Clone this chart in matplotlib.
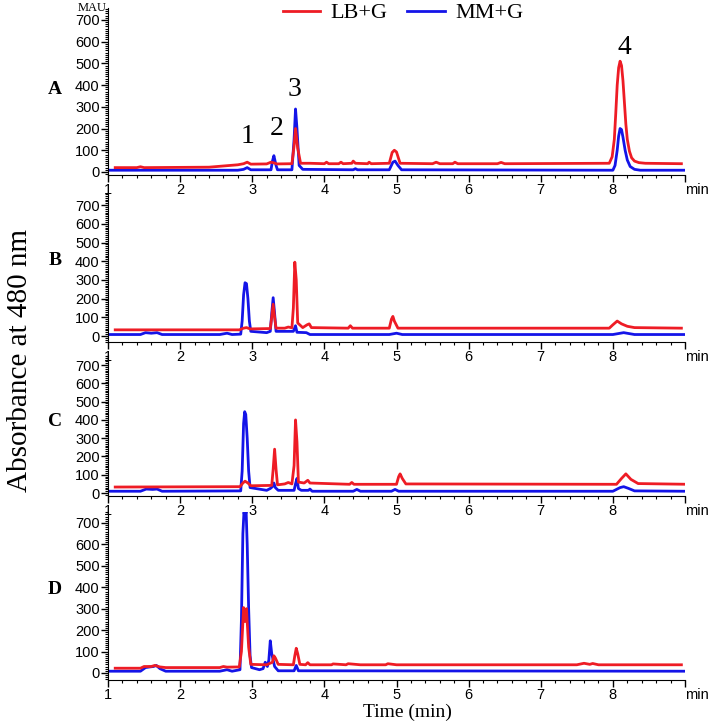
import numpy as np
import matplotlib
matplotlib.use("Agg")
from matplotlib import pyplot as plt
from matplotlib.ticker import MultipleLocator

# chromatogram traces: (time in min, absorbance in mAU)
# panel A
a_lb_t = [1.1, 1.4, 1.45, 1.5, 2.4, 2.8, 2.88, 2.93, 2.98, 3.2, 3.26, 3.3, 3.34, 3.55, 3.58, 3.6, 3.63, 3.67,
          3.8, 4.0, 4.03, 4.06, 4.2, 4.23, 4.26, 4.38, 4.4, 4.43, 4.6, 4.62, 4.65, 4.9, 4.94, 4.97, 5.0, 5.05,
          5.5, 5.55, 5.6, 5.78, 5.81, 5.85, 6.4, 6.45, 6.5, 7.95, 7.99, 8.02, 8.04, 8.06, 8.08, 8.1, 8.12,
          8.14, 8.16, 8.18, 8.2, 8.23, 8.26, 8.3, 8.36, 8.45, 8.95]
a_lb_y = [20, 20, 24, 20, 22, 33, 38, 45, 36, 37, 45, 42, 37, 38, 120, 200, 110, 40,
          40, 38, 45, 38, 38, 45, 38, 40, 50, 40, 38, 45, 38, 40, 90, 100, 92, 40,
          38, 45, 38, 38, 45, 38, 38, 44, 38, 40, 70, 150, 270, 400, 480, 510, 490,
          420, 320, 220, 150, 95, 65, 50, 43, 40, 38]
a_mm_t = [1.0, 2.8, 2.88, 2.93, 2.98, 3.26, 3.28, 3.3, 3.33, 3.35, 3.55, 3.58, 3.6, 3.62, 3.65, 3.7,
          4.4, 4.43, 4.46, 4.9, 4.95, 4.98, 5.02, 5.07, 8.0, 8.03, 8.06, 8.08, 8.1, 8.12, 8.14, 8.17,
          8.2, 8.24, 8.3, 8.38, 9.0]
a_mm_y = [8, 8, 12, 20, 10, 10, 50, 75, 30, 10, 10, 150, 290, 200, 30, 12,
          10, 15, 10, 10, 45, 50, 30, 10, 8, 30, 100, 165, 200, 195, 160, 100,
          55, 25, 12, 8, 8]

# panel B
b_lb_t = [1.1, 2.82, 2.88, 2.92, 2.97, 3.25, 3.27, 3.29, 3.31, 3.33, 3.45, 3.5, 3.55, 3.57, 3.59, 3.61, 3.63,
          3.7, 3.76, 3.79, 3.82, 4.33, 4.36, 4.39, 4.9, 4.93, 4.95, 4.97, 5.02, 7.95, 8.0, 8.06, 8.12, 8.2, 8.3, 8.95]
b_lb_y = [33, 33, 42, 45, 38, 40, 100, 170, 100, 42, 42, 48, 44, 150, 395, 300, 70,
          45, 60, 65, 45, 42, 55, 42, 42, 90, 105, 80, 42, 42, 60, 80, 65, 52, 45, 42]
b_mm_t = [1.0, 1.45, 1.52, 1.6, 1.68, 1.75, 2.55, 2.65, 2.72, 2.84, 2.86, 2.88, 2.9, 2.92, 2.94, 2.96, 2.98,
          3.2, 3.25, 3.27, 3.29, 3.31, 3.33, 3.5, 3.57, 3.6, 3.62, 3.75, 3.8, 4.9, 5.0, 5.08, 8.0, 8.15, 8.3, 9.0]
b_mm_y = [8, 8, 18, 15, 18, 8, 8, 15, 8, 10, 80, 220, 285, 280, 200, 80, 25,
          18, 25, 120, 205, 120, 25, 25, 25, 55, 20, 18, 8, 8, 15, 8, 8, 18, 8, 8]

# panel C
c_lb_t = [1.1, 2.83, 2.87, 2.9, 2.94, 2.98, 3.27, 3.29, 3.31, 3.33, 3.35, 3.45, 3.5, 3.55, 3.58, 3.6, 3.62, 3.64,
          3.72, 3.77, 3.8, 4.35, 4.38, 4.41, 5.0, 5.03, 5.05, 5.08, 5.13, 8.05, 8.12, 8.18, 8.25, 8.35, 9.05]
c_lb_y = [33, 35, 55, 65, 55, 40, 42, 130, 240, 130, 45, 50, 58, 50, 150, 400, 280, 60,
          55, 70, 55, 48, 58, 48, 48, 90, 105, 80, 50, 48, 80, 105, 75, 52, 48]
c_mm_t = [1.0, 1.45, 1.53, 1.62, 1.68, 1.75, 2.84, 2.86, 2.88, 2.895, 2.91, 2.93, 2.95, 2.97, 3.2, 3.25, 3.28,
          3.3, 3.32, 3.36, 3.58, 3.6, 3.62, 3.64, 3.68, 3.78, 3.8, 3.83, 4.4, 4.45, 4.5, 4.93, 4.98, 5.03,
          8.0, 8.1, 8.15, 8.22, 8.3, 9.0]
c_mm_y = [10, 10, 22, 20, 22, 10, 12, 120, 380, 445, 430, 300, 120, 30, 15, 25, 35,
          55, 30, 15, 15, 50, 80, 25, 15, 15, 22, 10, 10, 20, 10, 10, 20, 10,
          10, 30, 35, 25, 12, 10]

# panel D
d_lb_t = [1.1, 1.45, 1.5, 1.6, 1.65, 1.72, 1.8, 2.55, 2.6, 2.65, 2.82, 2.85, 2.88, 2.9, 2.92, 2.95, 2.98,
          3.2, 3.28, 3.3, 3.32, 3.36, 3.57, 3.59, 3.61, 3.63, 3.66, 3.74, 3.77, 3.8, 4.1, 4.12, 4.3, 4.33,
          4.5, 4.85, 4.88, 5.0, 7.5, 7.6, 7.68, 7.72, 7.8, 8.95]
d_lb_y = [22, 22, 30, 30, 35, 28, 25, 25, 30, 27, 28, 100, 305, 240, 300, 120, 40,
          38, 50, 80, 70, 40, 38, 80, 115, 90, 40, 38, 48, 38, 38, 42, 38, 43,
          38, 38, 43, 38, 38, 45, 40, 44, 38, 38]
d_mm_t = [1.0, 1.45, 1.52, 1.58, 1.63, 1.67, 1.72, 1.8, 2.55, 2.65, 2.72, 2.83, 2.85, 2.87, 2.885, 2.9, 2.915,
          2.93, 2.95, 2.97, 2.99, 3.1, 3.15, 3.18, 3.21, 3.23, 3.25, 3.27, 3.29, 3.31, 3.36, 3.58, 3.61, 3.64, 9.0]
d_mm_y = [8, 8, 25, 28, 30, 35, 20, 8, 8, 15, 8, 15, 250, 650, 750, 725, 755,
          600, 300, 80, 25, 15, 20, 50, 30, 60, 150, 90, 60, 30, 10, 10, 35, 10, 8]

panel_names = ["A", "B", "C", "D"]
peak_labels = ["1", "2", "3", "4"]
peak_label_t = [2.94, 3.34, 3.59, 8.16]
peak_label_y = [161, 198, 378, 571]

red = "#ee1c25"
blue = "#1414e8"

W, H = 711, 723
fig = plt.figure(figsize=(W / 100, H / 100), dpi=100)

# (top px, bottom px, ymin, ymax)
frames = [(8, 175, -14, 755), (193, 342, -32, 765), (355, 496, -16, 755), (512, 680, -33, 751)]
traces = [(a_lb_t, a_lb_y, a_mm_t, a_mm_y), (b_lb_t, b_lb_y, b_mm_t, b_mm_y),
          (c_lb_t, c_lb_y, c_mm_t, c_mm_y), (d_lb_t, d_lb_y, d_mm_t, d_mm_y)]
label_y_px = [90, 260, 422, 590]

x0, x1 = 108, 685
axes = []
for i, (top, bot, ymin, ymax) in enumerate(frames):
    ax = fig.add_axes([x0 / W, 1 - bot / H, (x1 - x0) / W, (bot - top) / H])
    lt, ly, mt, my = traces[i]
    l_mm, = ax.plot(mt, my, color=blue, lw=2.0, solid_joinstyle="round")
    l_lb, = ax.plot(lt, ly, color=red, lw=2.0, solid_joinstyle="round")
    ax.set_xlim(1, 9)
    ax.set_ylim(ymin, ymax)
    for s in ["top", "right"]:
        ax.spines[s].set_visible(False)
    ax.xaxis.set_minor_locator(MultipleLocator(0.2))
    ax.yaxis.set_minor_locator(MultipleLocator(10))
    ax.set_yticks(range(0, 800, 100))
    ax.set_xticks(range(1, 10))
    ax.set_xticklabels([str(k) for k in range(1, 9)] + ["min"])
    ax.get_xticklabels()[-1].set_horizontalalignment("left")
    ax.tick_params(which="major", length=5, width=1, labelsize=10.5, pad=1)
    ax.tick_params(which="minor", length=2.5, width=0.8)
    for lab in ax.get_xticklabels() + ax.get_yticklabels():
        lab.set_fontfamily("Liberation Sans")
    ax.patch.set_alpha(0)
    fig.text(55 / W, 1 - label_y_px[i] / H, panel_names[i], family="Liberation Serif",
             fontweight="bold", fontsize=14, ha="center", va="center")
    axes.append(ax)

for k in range(4):
    axes[0].text(peak_label_t[k], peak_label_y[k], peak_labels[k], family="Liberation Serif",
                 fontsize=20, ha="center", va="center")

fig.text(92 / W, 1 - 8 / H, "MAU", family="Liberation Serif", fontsize=9, ha="center", va="center")
fig.text(20 / W, 1 - 360 / H, "Absorbance at 480 nm", family="Liberation Serif", fontsize=21,
         rotation=90, ha="center", va="center")
fig.text(407 / W, 1 - 712 / H, "Time (min)", family="Liberation Serif", fontsize=14,
         ha="center", va="center")

fig.legend([l_lb, l_mm], ["LB+G", "MM+G"], loc="center", bbox_to_anchor=(403 / W, 1 - 13 / H),
           ncol=2, frameon=False, prop={"family": "Liberation Serif", "size": 16},
           handlelength=1.7, handletextpad=0.45, columnspacing=0.9, borderpad=0)

fig.savefig("out.png", dpi=100)
